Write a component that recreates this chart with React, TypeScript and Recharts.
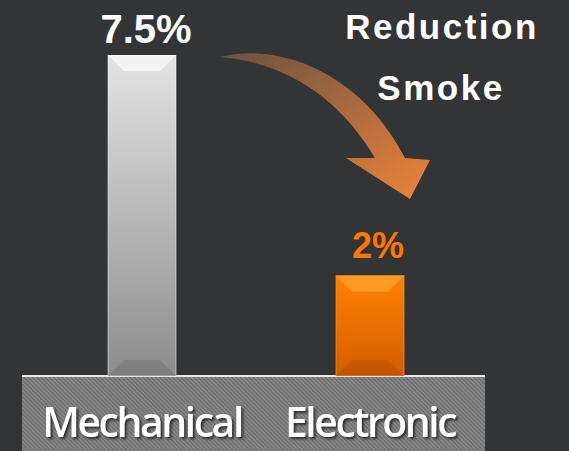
import React from "react";
import { BarChart, Bar, XAxis, YAxis, Cell, LabelList } from "recharts";

const categories = ["Mechanical", "Electronic"];
const smokeValues = [7.5, 2];
const valueLabels = ["7.5%", "2%"];
const barColors = ["url(#gradGray)", "url(#gradOrange)"];
const labelColors = ["#ffffff", "#ff7700"];
const axisFloor = -0.5;
const axisTop = 7.5;

const data = categories.map((name, i) => ({ name, value: smokeValues[i], label: valueLabels[i] }));

const BevelBar = (props: any) => {
  const { x, y, width, height, index } = props;
  const b = 16;
  const isGray = index === 0;
  const topShade = isGray ? "rgba(255,255,255,0.6)" : "rgba(255,170,60,0.6)";
  const bottomShade = isGray ? "rgba(0,0,0,0.10)" : "rgba(120,40,0,0.18)";
  return (
    <g>
      <rect x={x} y={y} width={width} height={height} fill={barColors[index]} />
      <polygon points={`${x},${y} ${x + width},${y} ${x + width - b},${y + b} ${x + b},${y + b}`} fill={topShade} />
      <polygon points={`${x},${y + height} ${x + width},${y + height} ${x + width - b},${y + height - b} ${x + b},${y + height - b}`} fill={bottomShade} />
      <rect x={x} y={y} width={width} height={height} fill="none" stroke={isGray ? "rgba(255,255,255,0.5)" : "rgba(255,150,40,0.7)"} strokeWidth={1} />
    </g>
  );
};

const ValueLabel = (props: any) => {
  const { x, y, width, index } = props;
  const isGray = index === 0;
  return (
    <text
      x={x + width / 2 + (isGray ? 4 : 8)}
      y={y - (isGray ? 12 : 18)}
      textAnchor="middle"
      fill={labelColors[index]}
      fontFamily="'Liberation Sans', Arial, sans-serif"
      fontWeight="bold"
      fontSize={isGray ? 40 : 36}
    >
      {valueLabels[index]}
    </text>
  );
};

const CategoryTick = (props: any) => {
  const { x, y, payload } = props;
  return (
    <text
      x={x}
      y={y + 61}
      textAnchor="middle"
      fill="#ffffff"
      fontFamily="'Open Sans', sans-serif"
      fontWeight={600}
      fontSize={41}
      letterSpacing={-2.5}
      style={{ filter: "drop-shadow(2px 2px 1px rgba(0,0,0,0.6))" }}
    >
      {payload.value}
    </text>
  );
};

export default function App() {
  return (
    <div style={{ position: "fixed", left: 0, top: 0, width: 569, height: 451, background: "#333436", overflow: "hidden" }}>
      {/* platform */}
      <svg width={569} height={451} style={{ position: "absolute", left: 0, top: 0 }}>
        <defs>
          <pattern id="hatch" width="3" height="3" patternUnits="userSpaceOnUse" patternTransform="rotate(-45)">
            <rect width="3" height="3" fill="#6e6e6e" />
            <rect width="1.3" height="3" fill="#8e8e8e" />
          </pattern>
        </defs>
        <rect x={22} y={376} width={463} height={75} fill="url(#hatch)" />
        <rect x={22} y={375} width={463} height={2} fill="#e6e6e6" />
      </svg>
      <div style={{ position: "absolute", left: 0, top: 0 }}>
        <BarChart width={569} height={451} data={data} margin={{ top: 55, right: 85, left: 28, bottom: 0 }}>
          <defs>
            <linearGradient id="gradGray" x1="0" y1="0" x2="0" y2="1">
              <stop offset="0%" stopColor="#e4e4e4" />
              <stop offset="100%" stopColor="#8c8c8c" />
            </linearGradient>
            <linearGradient id="gradOrange" x1="0" y1="0" x2="0" y2="1">
              <stop offset="0%" stopColor="#ff8200" />
              <stop offset="100%" stopColor="#d35d00" />
            </linearGradient>
          </defs>
          <XAxis dataKey="name" axisLine={false} tickLine={false} tickSize={0} tickMargin={0} height={75} tick={<CategoryTick />} interval={0} />
          <YAxis hide domain={[axisFloor, axisTop]} allowDataOverflow />
          <Bar
            dataKey={(d: any) => [axisFloor, d.value]}
            barSize={68}
            isAnimationActive={false}
            shape={<BevelBar />}
          >
            {data.map((d, i) => (
              <Cell key={d.name} fill={barColors[i]} />
            ))}
            <LabelList dataKey="label" content={<ValueLabel />} />
          </Bar>
        </BarChart>
      </div>
      {/* annotation arrow and text */}
      <svg width={569} height={451} style={{ position: "absolute", left: 0, top: 0, pointerEvents: "none" }}>
        <defs>
          <linearGradient id="arrowGrad" x1="0" y1="0" x2="1" y2="1">
            <stop offset="0%" stopColor="#6a5140" />
            <stop offset="100%" stopColor="#ee843a" />
          </linearGradient>
        </defs>
        <path
          d="M 220 57 C 275 42, 360 70, 405 158 L 430 160 L 410 199 L 346 158 L 375 158 C 340 98, 285 62, 220 57 Z"
          fill="url(#arrowGrad)"
        />
        <g fontFamily="'Liberation Sans', Arial, sans-serif" fontWeight="bold" fill="#ffffff" fontSize={35} letterSpacing={2.5} textAnchor="middle">
          <text x={442} y={39}>Reduction</text>
          <text x={441} y={100}>Smoke</text>
        </g>
      </svg>
    </div>
  );
}
